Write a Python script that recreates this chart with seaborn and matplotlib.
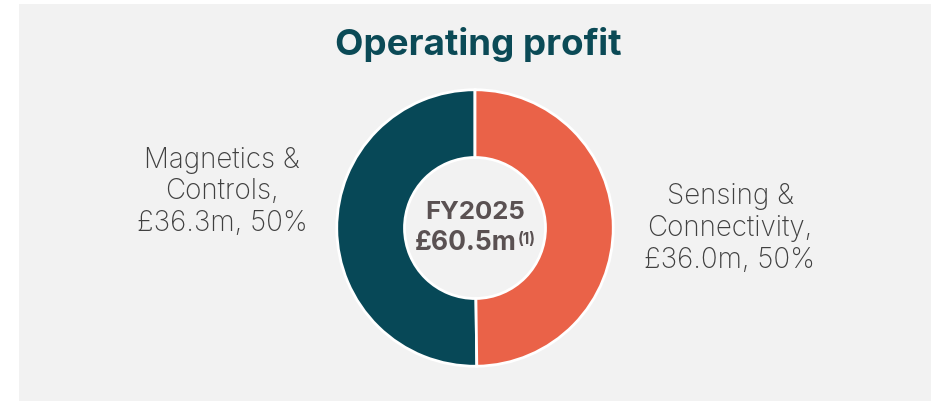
import matplotlib
matplotlib.use("Agg")
import matplotlib.pyplot as plt
import seaborn as sns
from matplotlib.patches import Rectangle

# data
segments = ['Magnetics & Controls', 'Sensing & Connectivity']
profit = [36.3, 36.0]
shares = [50, 50]
total = 60.5
year = 'FY2025'

sns.set_theme(style='white')
plt.rcParams['font.family'] = ['Inter', 'DejaVu Sans']

colors = ['#074857', '#EA6248']
W, H = 936, 401
fig = plt.figure(figsize=(W / 100, H / 100), dpi=100)
fig.patch.set_facecolor('white')

# grey panel behind everything
fig.patches.append(Rectangle((19 / W, 0), (931 - 19) / W, (H - 4) / H,
                             transform=fig.transFigure, facecolor='#f2f2f2',
                             edgecolor='none', zorder=-5))

def px(x, y):
    return x / W, 1 - y / H

cx, cy, r = 475, 228, 141
ax = fig.add_axes([(cx - r) / W, (H - cy - r) / H, 2 * r / W, 2 * r / H])
ax.pie(profit, colors=colors, startangle=90, counterclock=True, radius=1,
       wedgeprops=dict(width=0.49, edgecolor='white', linewidth=2))
ax.set_xlim(-1.02, 1.02)
ax.set_ylim(-1.02, 1.02)
ax.set_aspect('equal')
ax.axis('off')
ax.set_zorder(1)

fig.text(*px(478, 45), 'Operating profit', ha='center', va='center',
         fontsize=26.5, fontweight='bold', color='#0b4a56')

def label(x, y0, name, val, pct):
    parts = name.split(' ')
    lines = [parts[0] + ' &', parts[2] + ',', f'£{val:.1f}m, {pct}%']
    for i, ln in enumerate(lines):
        fig.text(*px(x, y0 + i * 32), ln, ha='center', va='center',
                 fontsize=20, fontweight='light', color='#404040')

label(222, 160, segments[0], profit[0], shares[0])
label(730, 197, segments[1], profit[1], shares[1])

fig.text(*px(475, 212), year, ha='center', va='center', fontsize=18.5,
         fontweight='bold', color='#5a5152', zorder=3)
fig.text(*px(466, 243), f'£{total:.1f}m', ha='center', va='center', fontsize=19,
         fontweight='bold', color='#5a5152', zorder=3)
fig.text(*px(527, 240), '(1)', ha='center', va='center', fontsize=11,
         fontweight='bold', color='#5a5152', zorder=3)

fig.savefig('out.png', dpi=100, facecolor='white')
